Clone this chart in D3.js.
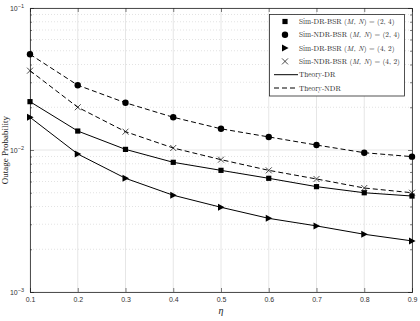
<!DOCTYPE html>
<html>
<head>
<meta charset="utf-8">
<script src="https://cdn.jsdelivr.net/npm/d3@7"></script>
<style>
  body { margin: 0; background: #fff; }
  svg { display: block; }
</style>
</head>
<body>
<svg id="chart" width="420" height="321"></svg>
<script>
// eta values on the x axis
var eta = [0.1, 0.2, 0.3, 0.4, 0.5, 0.6, 0.7, 0.8, 0.9];

// outage probability
var drBsr24  = [0.0219, 0.0136, 0.0101, 0.00819, 0.00719, 0.00632, 0.00552, 0.00500, 0.00474];
var ndrBsr24 = [0.0472, 0.0286, 0.0215, 0.0170, 0.0141, 0.01236, 0.01084, 0.00957, 0.00898];
var drBsr42  = [0.0170, 0.00937, 0.00632, 0.0048, 0.00395, 0.0033, 0.00292, 0.00255, 0.00229];
var ndrBsr42 = [0.0362, 0.0200, 0.01346, 0.01033, 0.00855, 0.00719, 0.00625, 0.00540, 0.00500];

var xTicks = [0.1, 0.2, 0.3, 0.4, 0.5, 0.6, 0.7, 0.8, 0.9];
var yTicks = [1e-3, 1e-2, 1e-1];

var svg = d3.select('#chart');
var pLeft = 30, pRight = 412, pTop = 8, pBottom = 292;

var x = d3.scaleLinear().domain([0.1, 0.9]).range([pLeft, pRight]);
var y = d3.scaleLog().domain([1e-3, 1e-1]).range([pBottom, pTop]);

// minor log ticks
var minor = [];
[1e-3, 1e-2].forEach(function (d) {
    for (var k = 2; k <= 9; k++) minor.push(d * k);
});

// grid
var grid = svg.append('g');
grid.selectAll('.vg').data(xTicks).enter().append('line')
    .attr('x1', function (d) { return x(d); }).attr('x2', function (d) { return x(d); })
    .attr('y1', pTop).attr('y2', pBottom)
    .attr('stroke', '#e6e6e6').attr('stroke-width', 1);
grid.selectAll('.hg').data(yTicks).enter().append('line')
    .attr('x1', pLeft).attr('x2', pRight)
    .attr('y1', function (d) { return y(d); }).attr('y2', function (d) { return y(d); })
    .attr('stroke', '#e6e6e6').attr('stroke-width', 1);
grid.selectAll('.mg').data(minor).enter().append('line')
    .attr('x1', pLeft).attr('x2', pRight)
    .attr('y1', function (d) { return y(d); }).attr('y2', function (d) { return y(d); })
    .attr('stroke', '#dcdcdc').attr('stroke-width', 0.8).attr('stroke-dasharray', '1,2');

// axes with inward ticks
var axCol = '#262626';
var gx = svg.append('g').attr('transform', 'translate(0,' + pBottom + ')')
    .call(d3.axisBottom(x).tickValues(xTicks).tickSize(-4).tickPadding(5).tickFormat(d3.format('.1f')));
var gxt = svg.append('g').attr('transform', 'translate(0,' + pTop + ')')
    .call(d3.axisTop(x).tickValues(xTicks).tickSize(-4).tickFormat(''));
var gy = svg.append('g').attr('transform', 'translate(' + pLeft + ',0)')
    .call(d3.axisLeft(y).tickValues(yTicks).tickSize(-4).tickFormat(''));
var gyr = svg.append('g').attr('transform', 'translate(' + pRight + ',0)')
    .call(d3.axisRight(y).tickValues(yTicks).tickSize(-4).tickFormat(''));
var gym = svg.append('g').attr('transform', 'translate(' + pLeft + ',0)')
    .call(d3.axisLeft(y).tickValues(minor).tickSize(-2).tickFormat(''));
var gymr = svg.append('g').attr('transform', 'translate(' + pRight + ',0)')
    .call(d3.axisRight(y).tickValues(minor).tickSize(-2).tickFormat(''));
[gx, gxt, gy, gyr, gym, gymr].forEach(function (g) {
    g.selectAll('path').attr('stroke', axCol).attr('stroke-width', 0.8);
    g.selectAll('line').attr('stroke', axCol).attr('stroke-width', 0.6);
    g.selectAll('text').attr('fill', '#333').style('font-family', 'Liberation Sans, Arial, sans-serif').style('font-size', '7px');
});
gym.select('path').remove();
gymr.select('path').remove();

// y tick labels 10^k
var ylab = svg.append('g');
yTicks.forEach(function (d) {
    var t = ylab.append('text')
        .attr('x', pLeft - 6).attr('y', y(d) + 3)
        .attr('text-anchor', 'end')
        .attr('fill', '#333')
        .style('font-family', 'Liberation Sans, Arial, sans-serif').style('font-size', '7px');
    t.append('tspan').text('10');
    t.append('tspan').attr('dy', -3.5).style('font-size', '5.5px')
        .text('\u2212' + Math.abs(Math.round(Math.log10(d))));
});

// axis labels
var serif = 'Latin Modern Roman, DejaVu Serif, Liberation Serif, serif';
svg.append('text').attr('x', (pLeft + pRight) / 2).attr('y', 314)
    .attr('text-anchor', 'middle').style('font-family', 'Liberation Serif, serif')
    .style('font-style', 'italic').style('font-size', '10px').attr('fill', '#222').text('η');
svg.append('text').attr('transform', 'translate(8,' + ((pTop + pBottom) / 2) + ') rotate(-90)')
    .attr('text-anchor', 'middle').style('font-family', 'Liberation Serif, serif')
    .style('font-size', '9px').attr('fill', '#222').text('Outage Probability');

// lines
var line = d3.line().x(function (d, i) { return x(eta[i]); }).y(function (d) { return y(d); });
var series = [
    { v: drBsr24, dash: null, m: 'square' },
    { v: ndrBsr24, dash: '5,3', m: 'circle' },
    { v: drBsr42, dash: null, m: 'triangle' },
    { v: ndrBsr42, dash: '5,3', m: 'cross' }
];
series.forEach(function (s) {
    svg.append('path').datum(s.v).attr('d', line)
        .attr('fill', 'none').attr('stroke', '#000').attr('stroke-width', 1)
        .attr('stroke-dasharray', s.dash);
});

function marker(g, type, cx, cy) {
    if (type === 'square') {
        g.append('rect').attr('x', cx - 2.6).attr('y', cy - 2.6).attr('width', 5.2).attr('height', 5.2).attr('fill', '#000');
    } else if (type === 'circle') {
        g.append('circle').attr('cx', cx).attr('cy', cy).attr('r', 3.2).attr('fill', '#000');
    } else if (type === 'triangle') {
        g.append('path').attr('d', 'M' + (cx - 3) + ',' + (cy - 3.5) + 'L' + (cx + 3.6) + ',' + cy + 'L' + (cx - 3) + ',' + (cy + 3.5) + 'Z').attr('fill', '#000');
    } else {
        g.append('path').attr('d', 'M' + (cx - 3) + ',' + (cy - 3) + 'L' + (cx + 3) + ',' + (cy + 3) + 'M' + (cx - 3) + ',' + (cy + 3) + 'L' + (cx + 3) + ',' + (cy - 3))
            .attr('stroke', '#000').attr('stroke-width', 0.7).attr('fill', 'none');
    }
}
var mk = svg.append('g');
series.forEach(function (s) {
    s.v.forEach(function (d, i) { marker(mk, s.m, x(eta[i]), y(d)); });
});

// legend
var lg = svg.append('g');
lg.append('rect').attr('x', 269.5).attr('y', 14.5).attr('width', 135).attr('height', 81.5)
    .attr('fill', '#fff').attr('stroke', '#262626').attr('stroke-width', 0.8);
var legendItems = [
    { m: 'square', label: ['Sim-DR-BSR ', '(2, 4)'] },
    { m: 'circle', label: ['Sim-NDR-BSR ', '(2, 4)'] },
    { m: 'triangle', label: ['Sim-DR-BSR ', '(4, 2)'] },
    { m: 'cross', label: ['Sim-NDR-BSR ', '(4, 2)'] },
    { m: 'solid', label: ['Theory-DR'] },
    { m: 'dash', label: ['Theory-NDR'] }
];
legendItems.forEach(function (it, i) {
    var yy = 21.5 + i * 13.3;
    if (it.m === 'solid' || it.m === 'dash') {
        lg.append('line').attr('x1', 274).attr('x2', 298).attr('y1', yy).attr('y2', yy)
            .attr('stroke', '#000').attr('stroke-width', 1)
            .attr('stroke-dasharray', it.m === 'dash' ? '5,3' : null);
    } else {
        marker(lg, it.m, 285, yy);
    }
    var t = lg.append('text').attr('x', 299).attr('y', yy + 2.5)
        .style('font-family', serif).style('font-size', '7.3px').attr('fill', '#222');
    t.append('tspan').text(it.label[0]);
    if (it.label.length > 1) {
        t.append('tspan').text('(');
        t.append('tspan').style('font-style', 'italic').text('M, N');
        t.append('tspan').text(') = ' + it.label[1]);
    }
});
</script>
</body>
</html>
